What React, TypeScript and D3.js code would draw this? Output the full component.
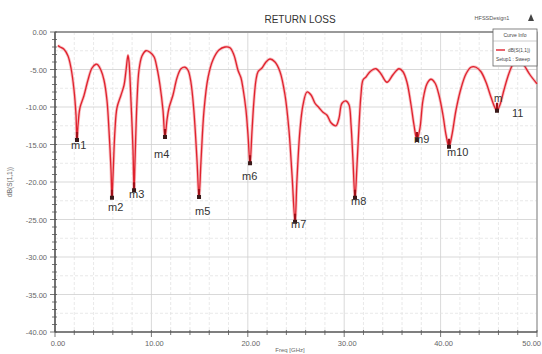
import * as React from "react";
import * as d3 from "d3";

// S11 sweep (GHz, dB)
const freq = [
  0.3, 0.52, 0.93, 1.35, 1.66, 1.97, 2.18, 2.28, 2.39, 2.59, 3.0, 3.42, 3.84, 4.25, 4.46, 4.77, 5.08,
  5.39, 5.6, 5.81, 5.91, 6.02, 6.22, 6.43, 6.85, 7.16, 7.37, 7.57, 7.68, 7.88, 8.09, 8.2, 8.3, 8.51,
  8.71, 9.02, 9.44, 9.85, 10.27, 10.58, 10.89, 11.2, 11.41, 11.62, 11.83, 12.24, 12.66, 13.07, 13.49,
  13.8, 14.1, 14.4, 14.73, 14.94, 15.15, 15.46, 15.87, 16.39, 17.01, 17.63, 18.15, 18.57, 18.98, 19.29,
  19.5, 19.81, 20.02, 20.23, 20.44, 20.64, 20.85, 21.06, 21.47, 21.89, 22.3, 22.82, 23.34, 23.86, 24.27,
  24.59, 24.9, 25.1, 25.41, 25.73, 26.14, 26.56, 26.97, 27.39, 27.8, 28.22, 28.63, 29.15, 29.46, 29.77,
  30.19, 30.5, 30.71, 30.91, 31.12, 31.33, 31.54, 31.74, 31.95, 32.26, 32.68, 33.3, 33.82, 34.44, 35.06,
  35.68, 36.1, 36.51, 36.93, 37.24, 37.55, 37.86, 38.17, 38.59, 39.0, 39.42, 39.83, 40.25, 40.56, 40.87,
  41.18, 41.6, 42.12, 42.63, 43.15, 43.67, 44.19, 44.71, 45.23, 45.64, 45.85, 46.16, 46.58, 46.99,
  47.41, 47.82, 48.24, 48.65, 49.27, 50.0,
];
const s11 = [
  -1.8, -2.0, -2.3, -3.2, -4.8, -7.7, -11.1, -14.4, -12.4, -10.1, -8.5, -6.4, -4.8, -4.3, -4.4, -5.1,
  -6.4, -9.1, -13.1, -18.4, -22.1, -19.1, -13.1, -10.1, -8.4, -7.1, -5.1, -3.1, -4.0, -9.1, -15.7, -21.1,
  -17.1, -9.1, -5.1, -3.2, -2.5, -2.7, -3.3, -4.8, -7.1, -10.4, -14.0, -11.7, -10.1, -8.4, -6.1, -4.9,
  -4.7, -5.1, -6.7, -10.4, -17.1, -22.0, -17.1, -10.4, -6.1, -3.7, -2.4, -2.0, -2.1, -3.1, -5.1, -6.1,
  -7.5, -10.4, -13.7, -17.5, -13.1, -9.1, -6.4, -5.3, -4.8, -4.0, -3.6, -4.0, -5.3, -8.4, -13.1, -19.1,
  -25.3, -19.7, -13.1, -9.7, -8.0, -8.4, -9.5, -10.1, -10.7, -11.1, -12.1, -12.5, -11.5, -9.5, -9.2,
  -9.7, -12.4, -17.1, -22.1, -17.7, -12.4, -8.4, -6.4, -6.0, -5.3, -4.9, -5.6, -6.7, -5.7, -4.9, -5.3,
  -6.7, -9.7, -12.4, -14.4, -12.8, -9.1, -6.9, -6.3, -6.8, -8.4, -11.1, -13.7, -15.3, -13.7, -10.4,
  -7.5, -5.6, -4.7, -4.7, -5.3, -6.7, -8.7, -10.1, -10.5, -9.7, -7.7, -5.9, -4.5, -3.7, -3.7, -4.4,
  -5.7, -6.9,
];

const markerNames = ["m1", "m2", "m3", "m4", "m5", "m6", "m7", "m8", "m9", "m10", "m11"];
const markerFreq = [2.28, 5.91, 8.2, 11.41, 14.94, 20.23, 24.9, 31.12, 37.55, 40.87, 45.85];
const markerDb = [-14.4, -22.1, -21.1, -14.0, -22.0, -17.5, -25.3, -22.1, -14.4, -15.3, -10.5];

const xTicks = [0, 10, 20, 30, 40, 50];
const yTicks = [0, -5, -10, -15, -20, -25, -30, -35, -40];

const W = 542;
const H = 354;
const M = { left: 55, right: 537, top: 32, bottom: 332 };

// label offsets relative to each marker (px)
const labelOffset: [number, number][] = [
  [-6, 9], [-4, 13], [-5, 8], [-11, 21], [-4, 18], [-8, 17], [-4, 6], [-4, 7], [-3, 3], [-2, 9], [-1, -9],
];

export default function App() {
  const x = d3.scaleLinear().domain([0, 50]).range([M.left, M.right]);
  const y = d3.scaleLinear().domain([0, -40]).range([M.top, M.bottom]);

  const pts = freq.map((f, i) => [f, s11[i]] as [number, number]);
  const line = d3
    .line<[number, number]>()
    .x((d) => x(d[0]))
    .y((d) => y(d[1]))
    .curve(d3.curveCatmullRom.alpha(0.5));
  const path = line(pts) ?? "";

  const minorX = d3.range(0, 50.01, 2);
  const minorY = d3.range(0, -40.01, -2.5);
  const tickY = d3.range(0, -40.01, -1);
  const font = "'Liberation Sans', Arial, sans-serif";

  return (
    <svg
      width={W}
      height={H}
      style={{ position: "absolute", left: 0, top: 0, background: "#fff" }}
      fontFamily={font}
    >
      <text x={300} y={23} textAnchor="middle" fontSize={10} fill="#333">
        RETURN LOSS
      </text>
      <text x={492} y={20} textAnchor="middle" fontSize={5.5} fill="#555">
        HFSSDesign1
      </text>
      <path d="M528,21 l3,-7 l3,7 z" fill="#444" />

      {/* grid */}
      {minorX.map((v) => (
        <line key={"gx" + v} x1={x(v)} x2={x(v)} y1={M.top} y2={M.bottom}
          stroke={v % 10 === 0 ? "#cfcfcf" : "#e3e3e3"} strokeWidth={0.8}
          strokeDasharray={v % 10 === 0 ? undefined : "3 2"} />
      ))}
      {minorY.map((v) => (
        <line key={"gy" + v} x1={M.left} x2={M.right} y1={y(v)} y2={y(v)}
          stroke={v % 5 === 0 ? "#cfcfcf" : "#e3e3e3"} strokeWidth={0.8}
          strokeDasharray={v % 5 === 0 ? undefined : "3 2"} />
      ))}

      {/* frame */}
      <rect x={M.left} y={M.top} width={M.right - M.left} height={M.bottom - M.top}
        fill="none" stroke="#888" strokeWidth={1} />
      <line x1={M.left} x2={M.right} y1={M.top} y2={M.top} stroke="#999" strokeWidth={2} />
      <line x1={M.left} x2={M.left} y1={M.top} y2={M.bottom} stroke="#444" strokeWidth={1.2} />
      <line x1={M.left} x2={M.right} y1={M.bottom} y2={M.bottom} stroke="#444" strokeWidth={1.2} />

      {tickY.map((v) => (
        <line key={"ty" + v} x1={M.left - (v % 5 === 0 ? 5 : 3)} x2={M.left + 2}
          y1={y(v)} y2={y(v)} stroke="#555" strokeWidth={0.8} />
      ))}
      {minorX.map((v) => (
        <line key={"tx" + v} x1={x(v)} x2={x(v)} y1={M.bottom - 2}
          y2={M.bottom + (v % 10 === 0 ? 5 : 3)} stroke="#555" strokeWidth={0.8} />
      ))}

      {yTicks.map((v) => (
        <text key={"ly" + v} x={M.left - 8} y={y(v) + 3} textAnchor="end" fontSize={7.5} fill="#666">
          {v.toFixed(2)}
        </text>
      ))}
      {xTicks.map((v) => (
        <text key={"lx" + v} x={v === 50 ? W - 1 : x(v) + 3} y={M.bottom + 14}
          textAnchor={v === 50 ? "end" : "middle"} fontSize={7.5} fill="#666">
          {v.toFixed(2)}
        </text>
      ))}
      <text transform={`translate(12,${y(-20)}) rotate(-90)`} textAnchor="middle" fontSize={6.5} fill="#666">
        dB(S(1,1))
      </text>
      <text x={290} y={352} textAnchor="middle" fontSize={6} fill="#666">
        Freq [GHz]
      </text>

      {/* curve */}
      <path d={path} fill="none" stroke="#f3a3a6" strokeWidth={3} strokeLinejoin="round" opacity={0.7} />
      <path d={path} fill="none" stroke="#e0222e" strokeWidth={1.3} strokeLinejoin="round" />

      {/* markers */}
      {markerNames.map((n, i) => {
        const mx = x(markerFreq[i]);
        const my = y(markerDb[i]);
        const [dx, dy] = labelOffset[i];
        return (
          <g key={n}>
            <line x1={mx} x2={mx} y1={my - 8} y2={my} stroke="#a01018" strokeWidth={2.2} />
            <rect x={mx - 2} y={my - 2} width={4} height={4} fill="#3a1a1a" />
            {n === "m11" ? (
              <>
                <text x={mx - 3} y={my + dy} fontSize={10} fill="#333">m</text>
                <text x={mx + 15} y={my + 6} fontSize={11} fill="#333">11</text>
              </>
            ) : (
              <text x={mx + dx} y={my + dy} fontSize={11} fill="#333">{n}</text>
            )}
          </g>
        );
      })}

      {/* legend */}
      <g>
        <rect x={493} y={29} width={44} height={37} fill="#fff" stroke="#666" strokeWidth={0.8} />
        <line x1={493} x2={537} y1={41} y2={41} stroke="#999" strokeWidth={0.5} />
        <text x={515} y={37} textAnchor="middle" fontSize={5} fill="#444">Curve Info</text>
        <line x1={496} x2={505} y1={50} y2={50} stroke="#e0222e" strokeWidth={1.4} />
        <text x={508} y={52} fontSize={4.8} fill="#444">dB(S(1,1))</text>
        <text x={496} y={61} fontSize={4.8} fill="#444">Setup1 : Sweep</text>
      </g>
    </svg>
  );
}
